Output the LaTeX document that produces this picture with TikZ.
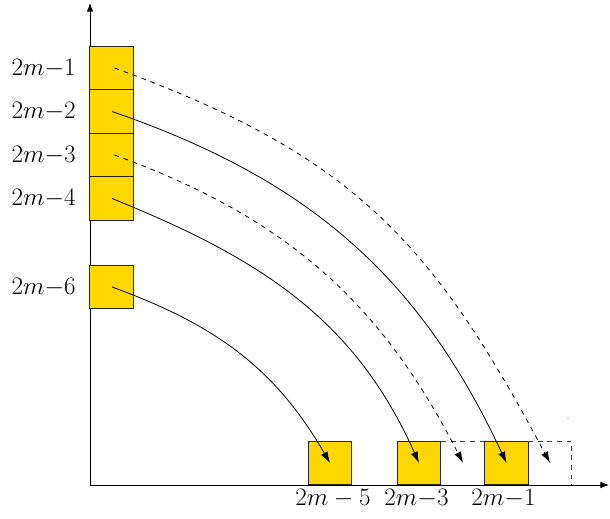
\documentclass[tikz,border=0pt]{standalone}
\usepackage{graphicx}
\usetikzlibrary{arrows.meta,calc}
\definecolor{boxgold}{HTML}{FFD700}
\newcommand{\lbl}[1]{\scalebox{1.09}{\fontsize{17.28}{21}\selectfont$#1$}}
\begin{document}
\begin{tikzpicture}[x=0.75pt,y=0.75pt,
  cell/.style={draw=black!85,fill=boxgold,line width=0.6pt,minimum width=32.6pt,minimum height=32.6pt,inner sep=0pt,outer sep=0pt},
  ghost/.style={minimum width=32.6pt,minimum height=32.6pt,inner sep=0pt,outer sep=0pt},
  lab/.style={inner sep=0pt},
  axis/.style={line width=0.75pt,-{Latex[length=6.5pt,width=5pt]}},
  mv/.style={line width=0.6pt,-{Latex[length=8.5pt,width=5.5pt]}},
  mvd/.style={mv,dash pattern=on 3.6pt off 3.6pt},
  ghostline/.style={line width=0.6pt,black!75,dash pattern=on 3.6pt off 3.6pt}]
\useasboundingbox (0,0) rectangle (610,518);
% axes
\coordinate (O) at (90,33);
\coordinate (Ytop) at (90,515);
\coordinate (Xend) at (609,33);
\draw[axis] (O) -- (Ytop);
\draw[axis] (O) -- (Xend);
% left boxes
\node[cell] (L1) at (111.5,450) {};
\node[cell] (L2) at (111.5,406.5) {};
\node[cell] (L3) at (111.5,363) {};
\node[cell] (L4) at (111.5,319.5) {};
\node[cell] (L5) at (111.5,231) {};
% bottom boxes
\node[cell] (B1) at (330,55) {};
\node[cell] (B2) at (419,55) {};
\node[cell] (B3) at (506.5,55) {};
\node[ghost] (D1) at (463,55) {};
\node[ghost] (D2) at (550,55) {};
\draw[ghostline] (D1.north west) -- (D1.north east);
\draw[ghostline] (D2.north west) -- (D2.north east) -- (D2.south east);
\fill[black!60] (568,100) circle (0.6);
% labels
\node[lab,anchor=east] (tL1) at (76,450) {\lbl{2m{-}1}};
\node[lab,anchor=east] (tL2) at (76,406.5) {\lbl{2m{-}2}};
\node[lab,anchor=east] (tL3) at (76,363) {\lbl{2m{-}3}};
\node[lab,anchor=east] (tL4) at (76,319.5) {\lbl{2m{-}4}};
\node[lab,anchor=east] (tL5) at (76,231) {\lbl{2m{-}6}};
\node[lab] (tB1) at (333,20) {\lbl{2m-5}};
\node[lab] (tB2) at (416.5,20) {\lbl{2m{-}3}};
\node[lab] (tB3) at (503.5,20) {\lbl{2m{-}1}};
% start points
\coordinate (s1) at ($(L1.center)+(3,0)$);
\coordinate (s2) at ($(L2.center)+(0.5,0)$);
\coordinate (s3) at ($(L3.center)+(3,0)$);
\coordinate (s4) at ($(L4.center)+(0.5,0)$);
\coordinate (s5) at ($(L5.center)+(0.5,0)$);
% moves
\draw[mvd] (s1) to[out=-20,in=118,looseness=1.1] (D2.center);
\draw[mv]  (s2) to[out=-19,in=115] (B3.center);
\draw[mvd] (s3) to[out=-20,in=117] (D1.center);
\draw[mv]  (s4) to[out=-22,in=114] (B2.center);
\draw[mv]  (s5) to[out=-20,in=120] (B1.center);
\end{tikzpicture}
\end{document}
